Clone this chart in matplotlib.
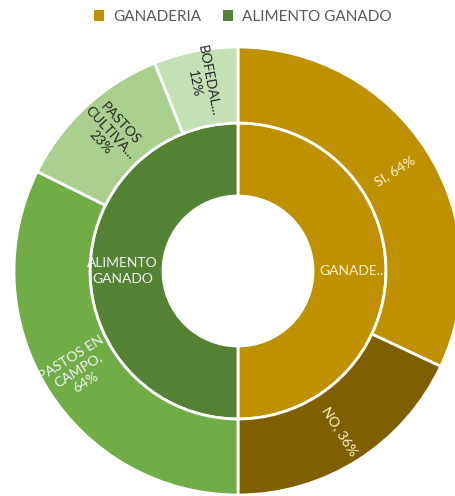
import numpy as np
import matplotlib.pyplot as plt
from matplotlib.patches import Patch

plt.rcParams['font.family'] = ['Lato', 'DejaVu Sans']

# inner ring
inner_labels = ['GANADE...', 'ALIMENTO\nGANADO']
inner_values = [50, 50]
inner_colors = ['#BF9000', '#548235']
inner_text_colors = ['#FFF2CC', '#F2F2F2']

# outer ring (percent within each group)
outer_labels = ['SI, 64%', 'NO, 36%', 'PASTOS EN\nCAMPO,\n64%', 'PASTOS\nCULTIVA...\n23%', 'BOFEDAL...\n12%']
outer_pct = [64, 36, 64, 23, 12]
outer_group = [0, 0, 1, 1, 1]
outer_colors = ['#BF9000', '#7F6000', '#70AD47', '#A9D08E', '#C5E0B4']
outer_text_colors = ['#FFF2CC', '#FFF2CC', '#F2F2F2', '#262626', '#262626']

legend_names = ['GANADERIA', 'ALIMENTO GANADO']

# share of the full circle for each outer slice
group_tot = [sum(p for p, g in zip(outer_pct, outer_group) if g == k) for k in range(2)]
outer_values = [inner_values[g] * p / group_tot[g] for p, g in zip(outer_pct, outer_group)]

fig = plt.figure(figsize=(4.55, 4.96), dpi=100)
ax = fig.add_axes([0, 0, 1, 1])

cx, cy = 238, 225
r_out, r_mid, r_hole = 224, 148, 75

wp = dict(edgecolor='white', linewidth=2)
ax.pie(inner_values, radius=r_mid, center=(cx, cy), startangle=90, counterclock=False,
       colors=inner_colors, wedgeprops=dict(width=r_mid - r_hole, **wp))
ax.pie(outer_values, radius=r_out, center=(cx, cy), startangle=90, counterclock=False,
       colors=outer_colors, wedgeprops=dict(width=r_out - r_mid, **wp))

ax.set_xlim(0, 455)
ax.set_ylim(0, 496)
ax.set_aspect('equal')
ax.axis('off')


def mid_angles(vals):
    total = sum(vals)
    cum = np.cumsum([0] + list(vals))
    return [90 - 360 * (cum[i] + vals[i] / 2) / total for i in range(len(vals))]


# inner labels, horizontal
for ang, lab, col in zip(mid_angles(inner_values), inner_labels, inner_text_colors):
    r = (r_mid + r_hole) / 2 + 4
    x = cx + r * np.cos(np.radians(ang))
    y = cy + r * np.sin(np.radians(ang))
    ax.text(x, y, lab, ha='center', va='center', color=col, fontsize=10,
            linespacing=1.45, zorder=5)

# outer labels, radial
outer_r = [186, 190, 188, 188, 192]
for ang, lab, col, r in zip(mid_angles(outer_values), outer_labels, outer_text_colors, outer_r):
    x = cx + r * np.cos(np.radians(ang))
    y = cy + r * np.sin(np.radians(ang))
    rot = ang % 360
    if 90 < rot < 270:
        rot -= 180
    elif rot >= 270:
        rot -= 360
    ax.text(x, y, lab, ha='center', va='center', color=col, fontsize=10,
            rotation=rot, rotation_mode='anchor', linespacing=1.2, zorder=5)

handles = [Patch(facecolor=c, edgecolor='none') for c in inner_colors]
fig.legend(handles, legend_names, loc='center', bbox_to_anchor=(0.534, 0.966), ncol=2,
           frameon=False, fontsize=11, labelcolor='#595959', handlelength=0.65,
           handleheight=0.65, handletextpad=0.6, columnspacing=1.4)

fig.savefig('out.png', dpi=100)
